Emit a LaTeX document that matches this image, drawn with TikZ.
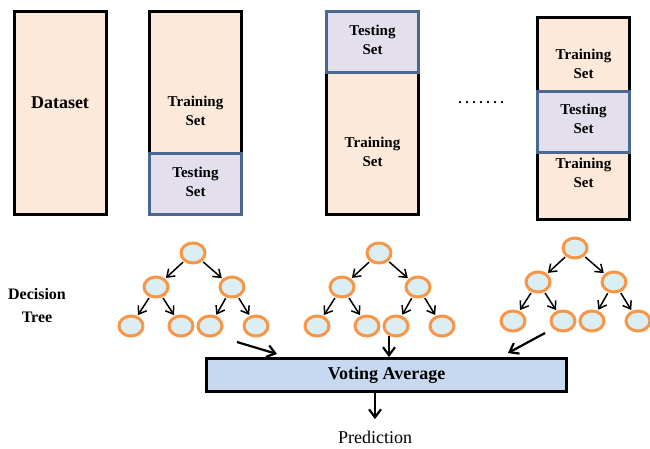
\documentclass[tikz,border=0pt]{standalone}
\usepackage{fontspec}
\setmainfont{Liberation Serif}
\usetikzlibrary{arrows.meta,shapes.geometric}

\definecolor{trainfill}{HTML}{FDE9D9}
\definecolor{testfill}{HTML}{E4DFEC}
\definecolor{testdraw}{HTML}{4A6891}
\definecolor{treefill}{HTML}{DAEEF3}
\definecolor{treedraw}{HTML}{F79646}
\definecolor{votefill}{HTML}{C6D9F1}

\newcommand{\setsz}[2]{\fontsize{#1}{#2}\selectfont}

\begin{document}
\begin{tikzpicture}[x=1pt,y=-1pt,
    setbox/.style={draw=black, line width=3pt, fill=trainfill, inner sep=0pt, minimum width=92pt},
    testbox/.style={draw=testdraw, line width=3pt, fill=testfill, inner sep=0pt, minimum width=92pt, minimum height=61pt},
    settext/.style={font=\bfseries\setsz{15}{19}, align=center},
    leaf/.style={ellipse, draw=treedraw, fill=treefill, line width=3pt, minimum width=24pt, minimum height=20pt, inner sep=0pt},
    branch/.style={-{Straight Barb[length=7pt,width=10pt]}, line width=1.5pt, shorten >=1pt, shorten <=1pt},
    bigarrow/.style={-{Straight Barb[length=8pt,width=12pt]}, line width=2.2pt}]
  \useasboundingbox (0,0) rectangle (650,448);

  % Whole dataset
  \node[setbox, minimum height=203pt] (data) at (60,112.5) {};
  \node[font=\bfseries\setsz{18}{20}] (datatxt) at (60,103) {Dataset};

  % Fold 1
  \node[setbox, minimum height=203pt] (fold1) at (195.5,112.5) {};
  \node[settext] (train1) at (195.5,111) {Training\\Set};
  \node[testbox] (test1) at (195.5,183.5) {};
  \node[settext] (test1txt) at (195.5,182) {Testing\\Set};

  % Fold 2
  \node[setbox, minimum height=203pt] (fold2) at (372.5,112.5) {};
  \node[testbox] (test2) at (372.5,41.5) {};
  \node[settext] (test2txt) at (372.5,40) {Testing\\Set};
  \node[settext] (train2) at (372.5,152) {Training\\Set};

  \node[font=\bfseries\setsz{14}{16}] (dots) at (481,103) {.\kern3.5pt.\kern3.5pt.\kern3.5pt.\kern3.5pt.\kern3.5pt.\kern3.5pt.};

  % Fold k
  \node[setbox, minimum height=202pt] (foldk) at (583.5,118) {};
  \node[settext] (traink) at (583.5,64) {Training\\Set};
  \node[testbox] (testk) at (583.5,121.5) {};
  \node[settext] (testktxt) at (583.5,119) {Testing\\Set};
  \node[settext] (trainkb) at (583.5,173) {Training\\Set};

  % Decision trees
  \node[font=\bfseries\setsz{16}{23}, align=center] (dtree) at (37,306) {Decision\\Tree};

  \foreach \t/\rx/\ry in {1/193/253, 2/379/253, 3/575/248} {
    \begin{scope}[shift={(\rx,\ry)}]
      \node[leaf] (t\t-r) at (0,0) {};
      \node[leaf] (t\t-a) at (-37,34) {};
      \node[leaf] (t\t-b) at (39,34) {};
      \node[leaf] (t\t-aa) at (-62,73) {};
      \node[leaf] (t\t-ab) at (-12,73) {};
      \node[leaf] (t\t-ba) at (17,73) {};
      \node[leaf] (t\t-bb) at (63,73) {};
      \draw[branch] (t\t-r) -- (t\t-a);
      \draw[branch] (t\t-r) -- (t\t-b);
      \draw[branch] (t\t-a) -- (t\t-aa);
      \draw[branch] (t\t-a) -- (t\t-ab);
      \draw[branch] (t\t-b) -- (t\t-ba);
      \draw[branch] (t\t-b) -- (t\t-bb);
    \end{scope}
  }

  % Voting
  \node[draw, line width=3pt, fill=votefill, inner sep=0pt, minimum width=360pt, minimum height=33pt,
        font=\bfseries\setsz{18}{20}] (vote) at (386.5,375) {Voting Average};

  \coordinate (in1) at (237,342);
  \coordinate (in1e) at (277,354);
  \coordinate (in2) at (389,336);
  \coordinate (in3) at (545,333);
  \coordinate (in3e) at (508,353);
  \draw[bigarrow] (in1) -- (in1e);
  \draw[bigarrow] (in2) -- (in2 |- vote.north);
  \draw[bigarrow] (in3) -- (in3e);

  \node[font=\setsz{18}{20}] (pred) at (375,437) {Prediction};
  \draw[bigarrow, shorten >=8pt] (vote.south -| pred.north) -- (pred.north);
\end{tikzpicture}
\end{document}
